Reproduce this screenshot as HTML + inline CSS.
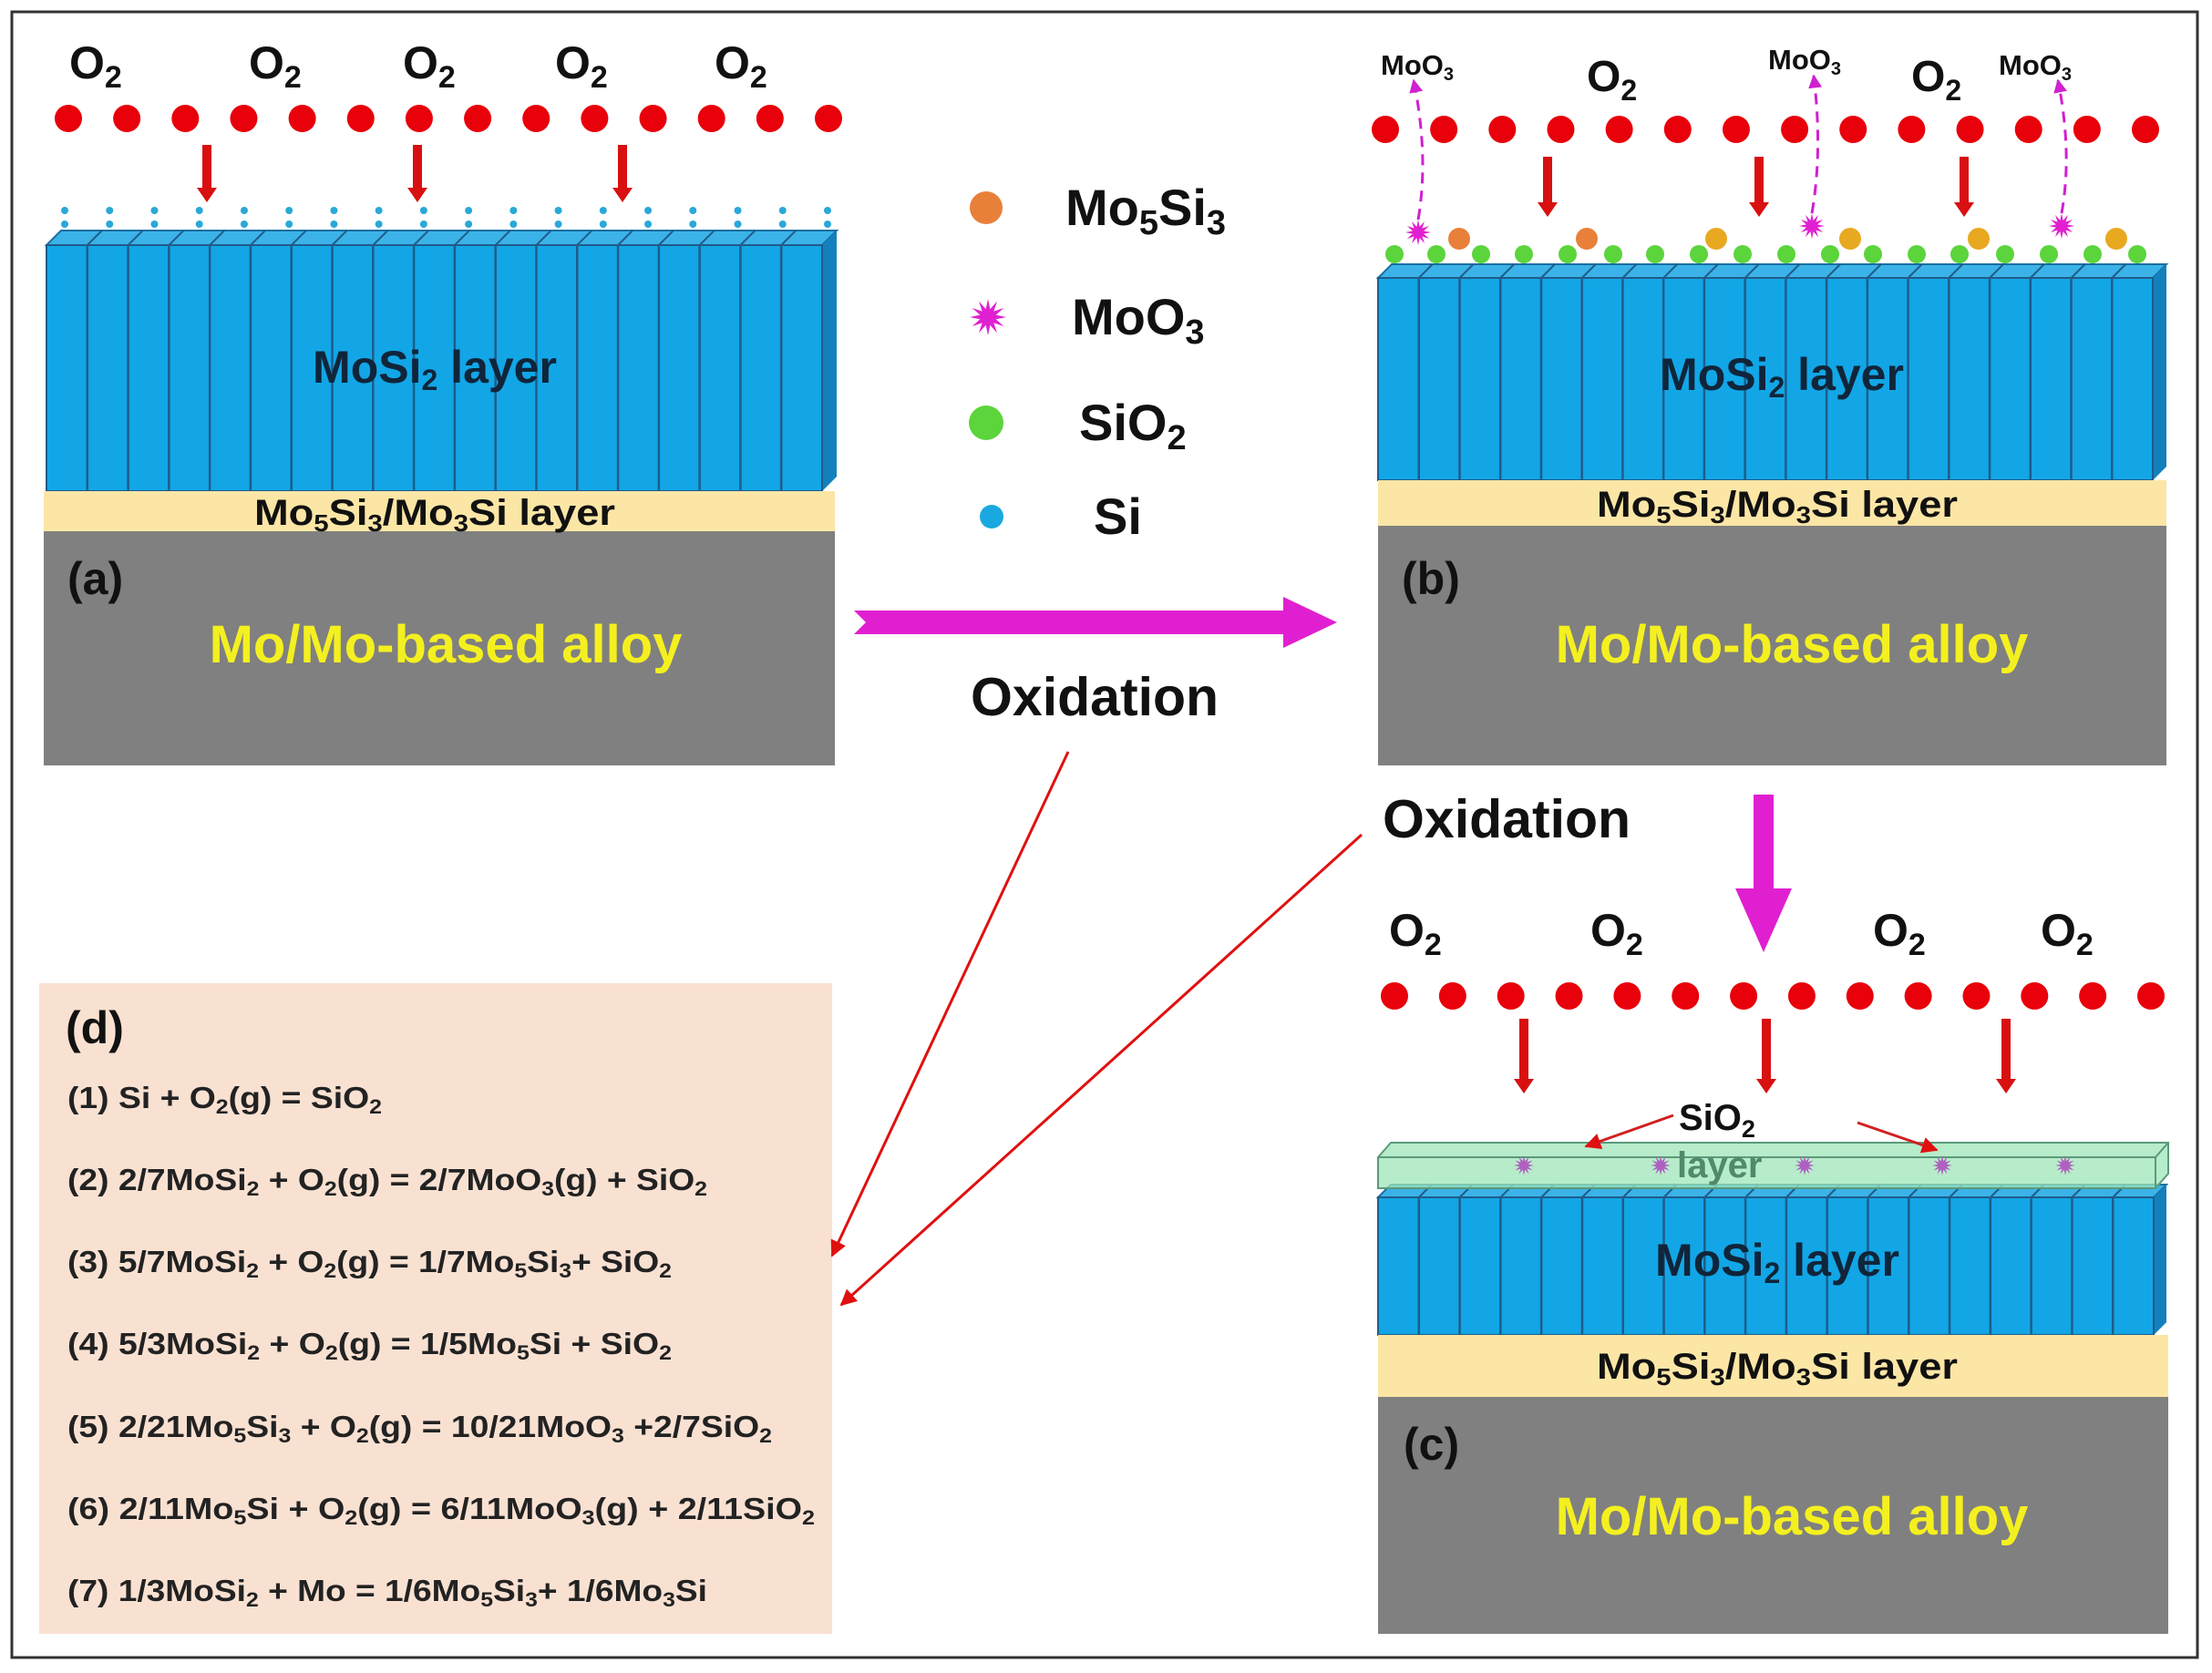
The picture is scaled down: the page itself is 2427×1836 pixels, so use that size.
<!DOCTYPE html>
<html><head><meta charset="utf-8"><style>
html,body{margin:0;padding:0;background:#fff}
svg{display:block}
text{font-family:"Liberation Sans",Arial,sans-serif;font-weight:bold}
</style></head><body>
<svg id="s" xmlns="http://www.w3.org/2000/svg" width="2427" height="1836" viewBox="0 0 2427 1836">
<rect x="0" y="0" width="2427" height="1836" fill="#fff"/>
<rect x="13" y="13" width="2398" height="1806" fill="none" stroke="#333" stroke-width="3"/>
<defs>
<marker id="rh" viewBox="0 0 10 10" refX="9" refY="5" markerWidth="6" markerHeight="6" orient="auto-start-reverse"><path d="M0,0 L10,5 L0,10 z" fill="#e01010"/></marker>
<marker id="ph" viewBox="0 0 10 10" refX="9" refY="5" markerWidth="5" markerHeight="5" orient="auto"><path d="M0,0 L10,5 L0,10 z" fill="#d020d0"/></marker>
</defs>
<g id="dyn"></g>

<!-- Panel a texts -->
<g font-size="50" fill="#111">
<text x="76" y="86">O<tspan font-size="34" dy="10">2</tspan></text>
<text x="273" y="86">O<tspan font-size="34" dy="10">2</tspan></text>
<text x="442" y="86">O<tspan font-size="34" dy="10">2</tspan></text>
<text x="609" y="86">O<tspan font-size="34" dy="10">2</tspan></text>
<text x="784" y="86">O<tspan font-size="34" dy="10">2</tspan></text>
</g>
<text x="477" y="420" font-size="50" fill="#10253a" text-anchor="middle">MoSi<tspan font-size="32" dy="8">2</tspan><tspan dy="-8"> layer</tspan></text>
<text x="477" y="576" font-size="40" fill="#111" text-anchor="middle" textLength="396" lengthAdjust="spacingAndGlyphs">Mo<tspan font-size="26" dy="7">5</tspan><tspan dy="-7">Si</tspan><tspan font-size="26" dy="7">3</tspan><tspan dy="-7">/Mo</tspan><tspan font-size="26" dy="7">3</tspan><tspan dy="-7">Si layer</tspan></text>
<text x="74" y="652" font-size="50" fill="#111">(a)</text>
<text x="489" y="727" font-size="58" fill="#f4f020" text-anchor="middle">Mo/Mo-based alloy</text>

<!-- Panel b texts -->
<g font-size="48" fill="#111">
<text x="1741" y="100">O<tspan font-size="32" dy="10">2</tspan></text>
<text x="2097" y="100">O<tspan font-size="32" dy="10">2</tspan></text>
</g>
<g font-size="31" fill="#111">
<text x="1515" y="82">MoO<tspan font-size="20" dy="6">3</tspan></text>
<text x="1940" y="76">MoO<tspan font-size="20" dy="6">3</tspan></text>
<text x="2193" y="82">MoO<tspan font-size="20" dy="6">3</tspan></text>
</g>
<text x="1955" y="428" font-size="50" fill="#10253a" text-anchor="middle">MoSi<tspan font-size="32" dy="8">2</tspan><tspan dy="-8"> layer</tspan></text>
<text x="1950" y="567" font-size="40" fill="#111" text-anchor="middle" textLength="396" lengthAdjust="spacingAndGlyphs">Mo<tspan font-size="26" dy="7">5</tspan><tspan dy="-7">Si</tspan><tspan font-size="26" dy="7">3</tspan><tspan dy="-7">/Mo</tspan><tspan font-size="26" dy="7">3</tspan><tspan dy="-7">Si layer</tspan></text>
<text x="1538" y="652" font-size="50" fill="#111">(b)</text>
<text x="1966" y="727" font-size="58" fill="#f4f020" text-anchor="middle">Mo/Mo-based alloy</text>

<!-- legend -->
<g font-size="56" fill="#111">
<text x="1169" y="247">Mo<tspan font-size="38" dy="10">5</tspan><tspan dy="-10">Si</tspan><tspan font-size="38" dy="10">3</tspan></text>
<text x="1176" y="367">MoO<tspan font-size="38" dy="10">3</tspan></text>
<text x="1184" y="483">SiO<tspan font-size="38" dy="10">2</tspan></text>
<text x="1200" y="586">Si</text>
</g>
<text x="1065" y="785" font-size="59" fill="#111">Oxidation</text>
<text x="1517" y="919" font-size="59" fill="#111">Oxidation</text>

<!-- Panel c texts -->
<g font-size="50" fill="#111">
<text x="1524" y="1038">O<tspan font-size="34" dy="10">2</tspan></text>
<text x="1745" y="1038">O<tspan font-size="34" dy="10">2</tspan></text>
<text x="2055" y="1038">O<tspan font-size="34" dy="10">2</tspan></text>
<text x="2239" y="1038">O<tspan font-size="34" dy="10">2</tspan></text>
</g>
<text x="1842" y="1240" font-size="40" fill="#111">SiO<tspan font-size="27" dy="8">2</tspan></text>
<text x="1840" y="1292" font-size="40" fill="#4f8a6a">layer</text>
<text x="1950" y="1400" font-size="50" fill="#10253a" text-anchor="middle">MoSi<tspan font-size="32" dy="8">2</tspan><tspan dy="-8"> layer</tspan></text>
<text x="1950" y="1513" font-size="40" fill="#111" text-anchor="middle" textLength="396" lengthAdjust="spacingAndGlyphs">Mo<tspan font-size="26" dy="7">5</tspan><tspan dy="-7">Si</tspan><tspan font-size="26" dy="7">3</tspan><tspan dy="-7">/Mo</tspan><tspan font-size="26" dy="7">3</tspan><tspan dy="-7">Si layer</tspan></text>
<text x="1540" y="1602" font-size="50" fill="#111">(c)</text>
<text x="1966" y="1684" font-size="58" fill="#f4f020" text-anchor="middle">Mo/Mo-based alloy</text>

<!-- Panel d -->
<rect x="43" y="1079" width="870" height="714" fill="#f9e1d2"/>
<text x="72" y="1145" font-size="50" fill="#111">(d)</text>
<g font-size="33" fill="#222">
<text x="74" y="1216" textLength="345" lengthAdjust="spacingAndGlyphs">(1) Si + O<tspan font-size="22" dy="6">2</tspan><tspan dy="-6">(g) = SiO</tspan><tspan font-size="22" dy="6">2</tspan></text>
<text x="74" y="1306" textLength="702" lengthAdjust="spacingAndGlyphs">(2) 2/7MoSi<tspan font-size="22" dy="6">2</tspan><tspan dy="-6"> + O</tspan><tspan font-size="22" dy="6">2</tspan><tspan dy="-6">(g) = 2/7MoO</tspan><tspan font-size="22" dy="6">3</tspan><tspan dy="-6">(g) + SiO</tspan><tspan font-size="22" dy="6">2</tspan></text>
<text x="74" y="1396" textLength="663" lengthAdjust="spacingAndGlyphs">(3) 5/7MoSi<tspan font-size="22" dy="6">2</tspan><tspan dy="-6"> + O</tspan><tspan font-size="22" dy="6">2</tspan><tspan dy="-6">(g) = 1/7Mo</tspan><tspan font-size="22" dy="6">5</tspan><tspan dy="-6">Si</tspan><tspan font-size="22" dy="6">3</tspan><tspan dy="-6">+ SiO</tspan><tspan font-size="22" dy="6">2</tspan></text>
<text x="74" y="1486" textLength="663" lengthAdjust="spacingAndGlyphs">(4) 5/3MoSi<tspan font-size="22" dy="6">2</tspan><tspan dy="-6"> + O</tspan><tspan font-size="22" dy="6">2</tspan><tspan dy="-6">(g) = 1/5Mo</tspan><tspan font-size="22" dy="6">5</tspan><tspan dy="-6">Si + SiO</tspan><tspan font-size="22" dy="6">2</tspan></text>
<text x="74" y="1577" textLength="773" lengthAdjust="spacingAndGlyphs">(5) 2/21Mo<tspan font-size="22" dy="6">5</tspan><tspan dy="-6">Si</tspan><tspan font-size="22" dy="6">3</tspan><tspan dy="-6"> + O</tspan><tspan font-size="22" dy="6">2</tspan><tspan dy="-6">(g) = 10/21MoO</tspan><tspan font-size="22" dy="6">3</tspan><tspan dy="-6"> +2/7SiO</tspan><tspan font-size="22" dy="6">2</tspan></text>
<text x="74" y="1667" textLength="820" lengthAdjust="spacingAndGlyphs">(6) 2/11Mo<tspan font-size="22" dy="6">5</tspan><tspan dy="-6">Si + O</tspan><tspan font-size="22" dy="6">2</tspan><tspan dy="-6">(g) = 6/11MoO</tspan><tspan font-size="22" dy="6">3</tspan><tspan dy="-6">(g) + 2/11SiO</tspan><tspan font-size="22" dy="6">2</tspan></text>
<text x="74" y="1757" textLength="702" lengthAdjust="spacingAndGlyphs">(7) 1/3MoSi<tspan font-size="22" dy="6">2</tspan><tspan dy="-6"> + Mo = 1/6Mo</tspan><tspan font-size="22" dy="6">5</tspan><tspan dy="-6">Si</tspan><tspan font-size="22" dy="6">3</tspan><tspan dy="-6">+ 1/6Mo</tspan><tspan font-size="22" dy="6">3</tspan><tspan dy="-6">Si</tspan></text>
</g>

<!-- big magenta arrows -->
<polygon points="937,670 1408,670 1408,655 1467,683 1408,711 1408,696 937,696 950,683" fill="#e020d0"/>
<polygon points="1924,872 1946,872 1946,975 1966,975 1935,1045 1904,975 1924,975" fill="#e020d0"/>
<!-- red connector lines -->
<line x1="1172" y1="825" x2="913" y2="1378" stroke="#e01010" stroke-width="3" marker-end="url(#rh)"/>
<line x1="1494" y1="916" x2="923" y2="1432" stroke="#e01010" stroke-width="3" marker-end="url(#rh)"/>
</svg>
<script>
(function(){
var NS="http://www.w3.org/2000/svg",g=document.getElementById("dyn");
function el(t,a){var e=document.createElementNS(NS,t);for(var k in a)e.setAttribute(k,a[k]);g.appendChild(e);return e;}
function dots(x0,x1,y,n){for(var i=0;i<n;i++)el("circle",{cx:x0+(x1-x0)*i/(n-1),cy:y,r:15,fill:"#e8000a"});}
function arrow(x,y0,y1){el("rect",{x:x-5,y:y0,width:10,height:y1-y0-14,fill:"#d81010"});el("polygon",{points:(x-11)+","+(y1-16)+" "+(x+11)+","+(y1-16)+" "+x+","+y1,fill:"#d81010"});}
function block(x0,x1,top,bot,n,bev){
 el("polygon",{points:x0+","+(top+bev)+" "+(x0+bev)+","+top+" "+x1+","+top+" "+x1+","+(bot-bev)+" "+(x1-bev)+","+bot+" "+x0+","+bot,fill:"#12a6e6"});
 el("polygon",{points:x0+","+(top+bev)+" "+(x0+bev)+","+top+" "+x1+","+top+" "+(x1-bev)+","+(top+bev),fill:"#3bb3e8",stroke:"#1a6fa0","stroke-width":2});
 el("polygon",{points:(x1-bev)+","+(top+bev)+" "+x1+","+top+" "+x1+","+(bot-bev)+" "+(x1-bev)+","+bot,fill:"#1380bd"});
 var w=(x1-bev-x0)/n;
 for(var i=1;i<n;i++){var x=x0+w*i;el("line",{x1:x,y1:top+bev,x2:x,y2:bot,stroke:"#1f5c8a","stroke-width":2.5});el("line",{x1:x,y1:top+bev,x2:x+bev,y2:top,stroke:"#1f5c8a","stroke-width":2});}
 el("rect",{x:x0,y:top+bev,width:x1-bev-x0,height:bot-top-bev,fill:"none",stroke:"#1f5c8a","stroke-width":2});
}
dots(75,909,130,14);
arrow(227,159,222);arrow(458,159,222);arrow(683,159,222);
for(var i=0;i<18;i++){var x=71+i*(908-71)/17;el("circle",{cx:x,cy:231,r:4,fill:"#2aa8d8"});el("circle",{cx:x,cy:246,r:4,fill:"#2aa8d8"});}
block(51,918,253,539,19,16);
el("rect",{x:48,y:539,width:868,height:44,fill:"#fce6a6"});
el("rect",{x:48,y:583,width:868,height:257,fill:"#808080"});
dots(1520,2354,142,14);
arrow(1698,172,238);arrow(1930,172,238);arrow(2155,172,238);
block(1512,2377,290,527,19,15);
el("rect",{x:1512,y:527,width:865,height:50,fill:"#fce6a6"});
el("rect",{x:1512,y:577,width:865,height:263,fill:"#808080"});
var gx=[1530,1576,1625,1672,1720,1770,1816,1864,1912,1960,2008,2055,2103,2150,2200,2248,2296,2345];
gx.forEach(function(x){el("circle",{cx:x,cy:279,r:10,fill:"#5cd43c"});});
[1601,1741,1883,2030,2171,2322].forEach(function(x,i){el("circle",{cx:x,cy:262,r:12,fill:i<2?"#e8803a":"#e8a820"});});
function star(cx,cy,r,c){var p="";for(var i=0;i<24;i++){var a=i*Math.PI/12,rr=i%2?r*0.45:r;p+=(cx+rr*Math.cos(a))+","+(cy+rr*Math.sin(a))+" ";}el("polygon",{points:p,fill:c});}
[[1556,255,1551,88],[1988,248,1990,83],[2262,248,2258,88]].forEach(function(s){
 star(s[0],s[1],14,"#e020d0");
 el("path",{d:"M"+s[0]+","+(s[1]-14)+" Q"+(s[0]+12)+","+((s[1]+s[3])/2)+" "+s[2]+","+s[3],fill:"none",stroke:"#d020d0","stroke-width":3,"stroke-dasharray":"12,8","marker-end":"url(#ph)"});
});
el("circle",{cx:1082,cy:228,r:18,fill:"#e8803a"});
star(1084,348,20,"#e020d0");
el("circle",{cx:1082,cy:464,r:19,fill:"#5cd43c"});
el("circle",{cx:1088,cy:567,r:13,fill:"#1aa8e0"});
dots(1530,2360,1093,14);
arrow(1672,1118,1200);arrow(1938,1118,1200);arrow(2201,1118,1200);
block(1512,2377,1300,1465,19,14);
el("polygon",{points:"1512,1270 1526,1254 2379,1254 2379,1288 2365,1304 1512,1304",fill:"#9fe6b8","fill-opacity":0.75,stroke:"#5a9a7a","stroke-width":2});
el("line",{x1:1512,y1:1270,x2:2365,y2:1270,stroke:"#5a9a7a","stroke-width":2});
el("line",{x1:2365,y1:1270,x2:2379,y2:1254,stroke:"#5a9a7a","stroke-width":2});
el("line",{x1:2365,y1:1270,x2:2365,y2:1304,stroke:"#5a9a7a","stroke-width":2});
[1672,1822,1980,2131,2266].forEach(function(x){star(x,1279,11,"#b060c0");});
el("rect",{x:1512,y:1465,width:867,height:68,fill:"#fce6a6"});
el("rect",{x:1512,y:1533,width:867,height:260,fill:"#808080"});
el("line",{x1:1836,y1:1224,x2:1740,y2:1258,stroke:"#d02020","stroke-width":3,"marker-end":"url(#rh)"});
el("line",{x1:2038,y1:1232,x2:2125,y2:1262,stroke:"#d02020","stroke-width":3,"marker-end":"url(#rh)"});
})();
</script>
</body></html>
